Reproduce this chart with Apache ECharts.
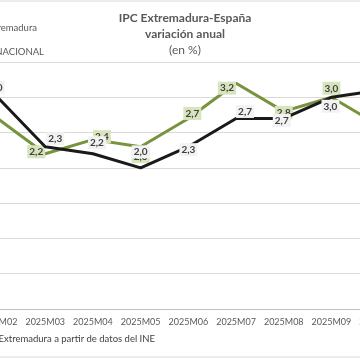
<!DOCTYPE html>
<html><head><meta charset="utf-8">
<script src="https://cdn.jsdelivr.net/npm/echarts@6/dist/echarts.min.js"></script>
<style>html,body{margin:0;padding:0;background:#fff;overflow:hidden;width:360px;height:360px}
#c{position:absolute;left:-74px;top:0;width:477px;height:360px}</style>
</head><body><div id="c"></div>
<script>
// ---- data ----
const categories = ['2025M01','2025M02','2025M03','2025M04','2025M05','2025M06','2025M07','2025M08','2025M09','2025M10'];
const extremadura = [null, 2.7, 2.2, 2.4, 2.3, 2.7, 3.2, 2.8, 3.0, 2.6];
const nacional    = [null, 3.0, 2.3, 2.2, 2.0, 2.3, 2.7, 2.7, 3.0, 3.1];
const seriesNames = ['IPC Extremadura', 'IPC GENERAL NACIONAL'];
const yTicks = [0, 0.5, 1, 1.5, 2, 2.5, 3, 3.5];

// ---- label placement (style) ----
const greenOffsets = [[0,0],[-30,0],[-9,-2],[9,-3],[0,10],[4,-5],[-9,5],[0,1],[0,-9],[0,0]];
const blackOffsets = [[0,0],[-2,-10],[10,-8],[4,-11],[0,-16],[0,3],[9,-7],[-2,2],[-1,9],[0,0]];

const FONT = '"Liberation Sans Narrow", Lato, sans-serif';
const FONT2 = 'Lato, sans-serif';
const fmt = p => p.value == null ? '' : p.value.toFixed(1).replace('.', ',');
function build(vals, offs) {
  return vals.map((v, i) => ({ value: v, label: { offset: offs[i] } }));
}
const chart = echarts.init(document.getElementById('c'));
chart.setOption({
  animation: false,
  title: {
    text: 'IPC Extremadura-España\nvariación anual',
    subtext: '(en %)',
    left: 254, textAlign: 'center', top: 5, itemGap: 2,
    textStyle: { fontFamily: FONT, fontSize: 12, fontWeight: 'bold', color: '#595959', lineHeight: 16 },
    subtextStyle: { fontFamily: FONT, fontSize: 12, color: '#595959' }
  },
  legend: [
    { data: [seriesNames[0]], orient: 'vertical', right: 366, top: 23, padding: 0, itemWidth: 18, itemHeight: 3,
      textStyle: { fontFamily: FONT2, fontSize: 9.5, color: '#595959' } },
    { data: [seriesNames[1]], orient: 'vertical', right: 359, top: 47, padding: 0, itemWidth: 18, itemHeight: 3,
      textStyle: { fontFamily: FONT2, fontSize: 9.5, color: '#595959' } }
  ],
  grid: { left: 0, right: 0, top: 62, bottom: 51, containLabel: false },
  xAxis: {
    type: 'category', data: categories, boundaryGap: true,
    axisLine: { lineStyle: { color: '#bfbfbf', width: 1 } },
    axisTick: { show: false },
    axisLabel: { fontFamily: FONT, fontSize: 9, color: '#595959', margin: 9, interval: 0 }
  },
  yAxis: {
    type: 'value', min: yTicks[0], max: yTicks[yTicks.length - 1], interval: 0.5,
    axisLabel: { show: false }, axisLine: { show: false }, axisTick: { show: false },
    splitLine: { lineStyle: { color: '#d9d9d9', width: 1 } }
  },
  graphic: [
    { type: 'line', shape: { x1: 0, y1: 1, x2: 477, y2: 1 }, style: { stroke: '#d9d9d9', lineWidth: 1 } },
    { type: 'line', shape: { x1: 0, y1: 357, x2: 477, y2: 357 }, style: { stroke: '#d9d9d9', lineWidth: 1 } },
    { type: 'text', right: 248, top: 334, style: { text: 'Fuente: Instituto de Estadística de Extremadura a partir de datos del INE', font: '9.5px ' + FONT2, fill: '#404040' } }
  ],
  series: [
    {
      name: seriesNames[0], type: 'line', data: build(extremadura, greenOffsets),
      symbol: 'circle', symbolSize: 1, showSymbol: true,
      lineStyle: { color: '#77933c', width: 3 }, itemStyle: { color: '#77933c' },
      label: { show: true, position: 'inside', formatter: fmt, fontFamily: FONT, fontSize: 10, fontWeight: 'bold',
        color: '#404040', backgroundColor: '#d7e4bd', padding: [2, 2, 1, 2] },
      z: 2
    },
    {
      name: seriesNames[1], type: 'line', data: build(nacional, blackOffsets),
      symbol: 'circle', symbolSize: 1, showSymbol: true,
      lineStyle: { color: '#1a1a1a', width: 3 }, itemStyle: { color: '#1a1a1a' },
      label: { show: true, position: 'inside', formatter: fmt, fontFamily: FONT, fontSize: 10, fontWeight: 'bold',
        color: '#404040', backgroundColor: '#f2f2f2', padding: [2, 2, 1, 2] },
      z: 3
    }
  ]
});
</script></body></html>
